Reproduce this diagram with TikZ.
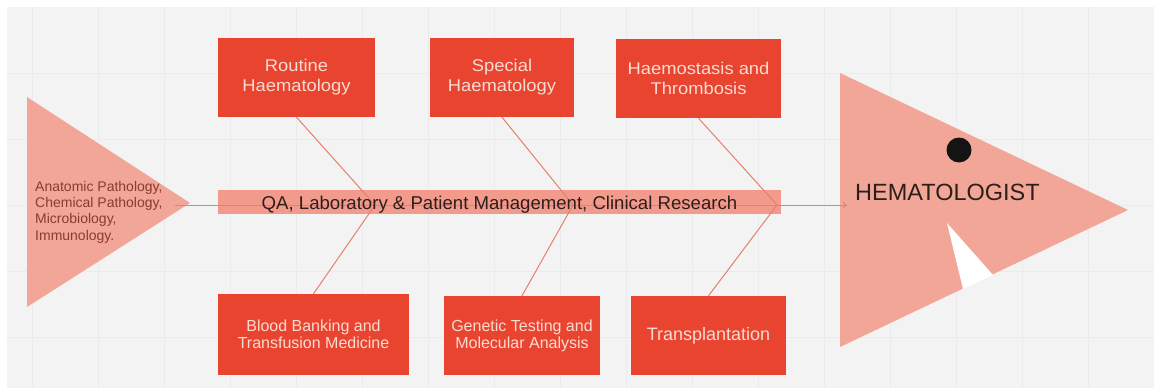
\documentclass[tikz,border=0pt]{standalone}
\usepackage{fontspec}
\setmainfont{Liberation Sans}
\newfontfamily\topfont[FakeStretch=1.08]{Liberation Sans}
\usetikzlibrary{arrows.meta}
\definecolor{bgc}{HTML}{F3F3F3}
\definecolor{gridc}{HTML}{EAEBEC}
\definecolor{boxc}{HTML}{E9442F}
\definecolor{boxtext}{HTML}{F8DCD2}
\definecolor{fishc}{HTML}{F2A697}
\definecolor{bandc}{HTML}{F29A8B}
\definecolor{bonec}{HTML}{E5806E}
\definecolor{srctext}{HTML}{8A3B31}
\definecolor{darktext}{HTML}{2E1E1B}
\tikzset{
  catbox/.style={rectangle, fill=boxc, draw=none, inner sep=0pt, align=center, text=boxtext},
  topcat/.style={catbox, font={\topfont\fontsize{17}{20}\selectfont}},
  botcat/.style={catbox, font={\fontsize{16}{17}\selectfont}},
  bone/.style={draw=bonec, line width=1pt},
  gridline/.style={draw=gridc, line width=1pt}
}
\begin{document}
\begin{tikzpicture}[x=1pt,y=-1pt]
\useasboundingbox (0,0) rectangle (1154,388);
\fill[white] (0,0) rectangle (1154,388);
\fill[bgc] (7,7) rectangle (1154,388);
\foreach \gx in {32,98,...,1154} \draw[gridline] (\gx,7) -- (\gx,388);
\foreach \gy in {73,139,...,337} \draw[gridline] (7,\gy) -- (1154,\gy);

% tail (sources)
\fill[fishc] (27,97) -- (190,203) -- (27,307) -- cycle;
\node[anchor=west, align=left, inner sep=0pt, text=srctext, font={\fontsize{14}{16.3}\selectfont}] (src) at (35,212)
  {Anatomic Pathology,\\Chemical Pathology,\\Microbiology,\\Immunology.};

% head
\fill[fishc] (840,73) -- (1128,210) -- (840,347) -- cycle;
\fill[white] (947,223) -- (963,289) -- (993,275) -- cycle;
\fill[black!92] (959,150) circle (12.5pt);
\node[anchor=base west, inner sep=0pt, text=darktext, font={\fontsize{23.5}{27}\selectfont}] (hem) at (855,200) {HEMATOLOGIST};

% band
\node[rectangle, fill=bandc, minimum width=563pt, minimum height=24pt, inner sep=0pt] (qa) at (499.5,202) {};

% category boxes
\node[topcat, minimum width=157pt, minimum height=79pt] (rh) at (296.5,77.5) {Routine\\Haematology};
\node[topcat, minimum width=144pt, minimum height=79pt] (sh) at (502,77.5) {Special\\Haematology};
\node[topcat, minimum width=165pt, minimum height=79pt] (hs) at (698.5,78.5) {Haemostasis and\\Thrombosis};
\node[botcat, minimum width=191pt, minimum height=81pt] (bb) at (313.5,334.5) {Blood Banking and\\Transfusion Medicine};
\node[botcat, minimum width=156pt, minimum height=79pt] (gt) at (522,335.5) {Genetic Testing and\\Molecular Analysis};
\node[catbox, font={\fontsize{18}{20}\selectfont}, minimum width=155pt, minimum height=79pt] (tp) at (708.5,335.5) {Transplantation};

% spine and bones
\coordinate (tail) at (175,205);
\coordinate (tip) at (847,205);
\coordinate (j1) at (375,205);
\coordinate (j2) at (573,205);
\coordinate (j3) at (777,205);
\draw[bone, -{To[length=4pt,width=7pt]}] (tail) -- (tip);
\draw[bone] (rh.south) -- (j1) -- (bb.north);
\draw[bone] (sh.south) -- (j2) -- (gt.north);
\draw[bone] (hs.south) -- (j3) -- (tp.north);

\node[anchor=base, inner sep=0pt, text=darktext, font={\fontsize{18.6}{21}\selectfont}] (qatxt) at (499.5,209)
  {QA, Laboratory \& Patient Management, Clinical Research};
\end{tikzpicture}
\end{document}
